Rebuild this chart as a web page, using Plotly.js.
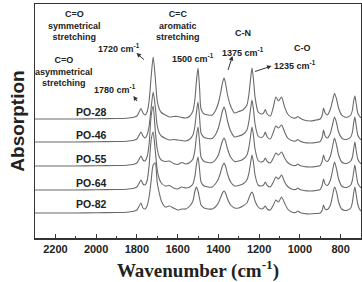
<!DOCTYPE html>
<html>
<head>
<meta charset="utf-8">
<script src="https://cdn.plot.ly/plotly-3.0.1.min.js"></script>
<style>html,body{margin:0;padding:0;background:#fff;}#chart{width:362px;height:282px;}</style>
</head>
<body>
<div id="chart"></div>
<script>
// Wavenumber grid (cm^-1)
const wavenumber = [2300,2200,2100,2000,1900,1850,1820,1800,1790,1780,1770,1760,1750,1740,1730,1720,1710,1700,1690,1680,1660,1640,1620,1600,1580,1560,1540,1525,1515,1508,1500,1492,1485,1470,1450,1430,1415,1400,1390,1380,1372,1365,1355,1340,1320,1300,1280,1260,1250,1242,1235,1228,1220,1205,1190,1178,1170,1160,1145,1130,1118,1105,1090,1075,1060,1040,1020,1010,1000,980,950,920,900,890,884,876,865,850,840,830,820,810,795,780,765,750,742,736,730,724,716,708,700];

const seriesNames = ["PO-28","PO-46","PO-55","PO-64","PO-82"];
// vertical stacking offsets of the spectra (a.u.)
const offsets = [119, 96, 72, 48, 25];

const po28 = [0,0,0,0.3,0.5,0.8,1.5,3,6.5,10.5,6,4,7,18,42,62,42,18,10,6.5,4,2,2.5,2.5,1.5,1,3,8,20,37,51,30,10,5,4,4,8,16,25,36,41,36,24,13,6,7.5,9,14,25,40,51,40,22,7,5,6,9.5,5,3,12,22,18,22,12,5,1.5,1,2.5,1,-1,-2,-1,0,4,11,6,4,10,18,25.5,20,11,4,2,2,4,9,18,23,16,6,3,1];
const po46 = [0,0,0,0.3,0.5,0.8,1.5,3,6.5,10,6,4,7,16,34,50,36,16,9,6,3.5,2,2.5,2,1.5,1,3,7,16,29,40,24,9,4.5,3.5,3.5,7,14,22,31,35,31,21,11,5,6,7.5,12,21,33,42,33,18,6,4.5,6,10,5,3,10,16,14,17,10,4,1.5,1,2.5,1,-0.5,-1,-0.5,0.5,5,12,6,4,9,17,25,19,10,4,2.5,3,5,10,19,25,17,7,4,2];
const po55 = [0,0,0,0.3,0.5,0.8,1.5,3,6.5,10,6,5,9,22,50,60,36,17,9,6,4.5,5,2.5,1.5,3.5,2,3.5,7,16,29,39,23,9,4.5,3.5,3.5,6,11,18,25,28,25,17,9,4.5,5,6.5,11,19,30,39,31,17,5.5,4,5,8,4.5,3,8,13,11,14,8,3.5,1,0.5,2,0.5,-0.5,-1,-0.5,0.5,5,11,6,4.5,10,19,28,21,11,4,2.5,3,5,9,17,24,16,7,4,2];
const po64 = [0,0,0,0.3,0.5,0.8,1.5,3,6.5,10,6,5,9,24,50,58,40,20,11,7,4,4.5,2,1,3,2,3,6,14,25,33,20,8,4,3,3,6,11,17,24,27,24,16,8,4,4.5,6,10,17,27,35,28,15,5,4,5,8,4.5,3,8,13,11,15,8,3.5,1,0.5,2,0.5,-0.5,-1,-0.5,0.5,5,11,6,4.5,10,19,28,21,11,4,2.5,3,5,10,18,25,17,7,4,2];
const po82 = [0,0,0,0.3,0.5,0.8,1.5,3,6.5,10,5,4,7,16,32,48,50,30,20,12,6,7,5,3,4,4,7,12,22,26,22,14,8,5,4,4,6,10,15,20,22,20,14,8,5,5,7,10,15,19,21,18,12,6,4,5,7,4,3,8,13,11,16,10,4,1,0.5,2,0.5,-0.5,-1,-0.5,0,3,8,4,3.5,8,17,26,21,11,4,2.5,3,5,11,20,26,19,9,4,2];

const spectra = [po28, po46, po55, po64, po82];

// Peak label texts
const bandTexts = ["C=O<br>symmetrical<br>stretching","C=O<br>asymmetrical<br>stretching","C=C<br>aromatic<br>stretching","C-N","C-O"];
const peakTexts = ["1720 cm<sup>-1</sup>","1780 cm<sup>-1</sup>","1500 cm<sup>-1</sup>","1375 cm<sup>-1</sup>","1235 cm<sup>-1</sup>"];

const lineColor = '#6a6a6a';
const traces = spectra.map((s, i) => ({
  x: wavenumber,
  y: s.map(v => v + offsets[i]),
  type: 'scatter',
  mode: 'lines',
  name: seriesNames[i],
  line: {color: lineColor, width: 1.1, shape: 'spline', smoothing: 0.7},
  hoverinfo: 'skip'
}));

const bold = {family: 'Liberation Sans, Arial, sans-serif', size: 9, color: '#222', weight: 'bold'};
const ann = [];
function txt(text, x, y, size) {
  ann.push({text: text, x: x, y: y, xref: 'x', yref: 'y', showarrow: false,
    font: Object.assign({}, bold, {size: size || 9}), xanchor: 'center', yanchor: 'middle', align: 'center'});
}
// band labels
txt(bandTexts[0], 2107, 213);
txt(peakTexts[0], 1890, 190);
txt(bandTexts[1], 2156, 167);
txt(peakTexts[1], 1905, 149);
txt(bandTexts[2], 1596, 213);
txt(peakTexts[2], 1527, 180);
txt(bandTexts[3], 1277, 205);
txt(peakTexts[3], 1277, 186);
txt(bandTexts[4], 987, 190);
txt(peakTexts[4], 1026, 173);
// series labels
const labelY = [126, 103, 79, 55, 34];
seriesNames.forEach((n, i) => txt(n, 2023, labelY[i], 10.5));

// arrows (head at x,y ; tail offset ax,ay in px)
function arrow(x, y, ax, ay) {
  ann.push({text: ' ', x: x, y: y, xref: 'x', yref: 'y', showarrow: true, ax: ax, ay: ay,
    arrowhead: 2, arrowsize: 0.9, arrowwidth: 1, arrowcolor: '#333', standoff: 0, startstandoff: 0,
    font: {size: 1}});
}
arrow(1802, 185, 9, 8);
arrow(1817, 142, 5, 7);
arrow(1331, 182, -5, 16);
arrow(1139, 172, -18, 6);

const layout = {
  width: 362, height: 282,
  margin: {l: 35, r: 1, t: 4, b: 44},
  paper_bgcolor: '#fff', plot_bgcolor: '#fff',
  showlegend: false,
  xaxis: {
    range: [2300, 700], autorange: false,
    tickmode: 'linear', tick0: 800, dtick: 200,
    ticks: 'inside', ticklen: 4, tickwidth: 1, tickcolor: '#333',
    minor: {ticks: 'inside', ticklen: 2, tickmode: 'linear', tick0: 700, dtick: 100, tickcolor: '#333', showgrid: false},
    showline: true, mirror: true, linecolor: '#333', linewidth: 1.5,
    showgrid: false, zeroline: false,
    tickfont: {family: 'Liberation Sans, Arial, sans-serif', size: 11, color: '#222', weight: 'bold'},
    title: {text: 'Wavenumber (cm<sup>-1</sup>)', font: {family: 'Liberation Serif, Times New Roman, serif', size: 19, color: '#222', weight: 'bold'}, standoff: 13}
  },
  yaxis: {
    range: [0, 234], autorange: false,
    showticklabels: false, ticks: '',
    showline: true, mirror: true, linecolor: '#333', linewidth: 1.5,
    showgrid: false, zeroline: false,
    title: {text: 'Absorption', font: {family: 'Liberation Sans, Arial, sans-serif', size: 19, color: '#222', weight: 'bold'}, standoff: 4}
  },
  annotations: ann
};

Plotly.newPlot('chart', traces, layout, {staticPlot: true, displayModeBar: false});
</script>
</body>
</html>
